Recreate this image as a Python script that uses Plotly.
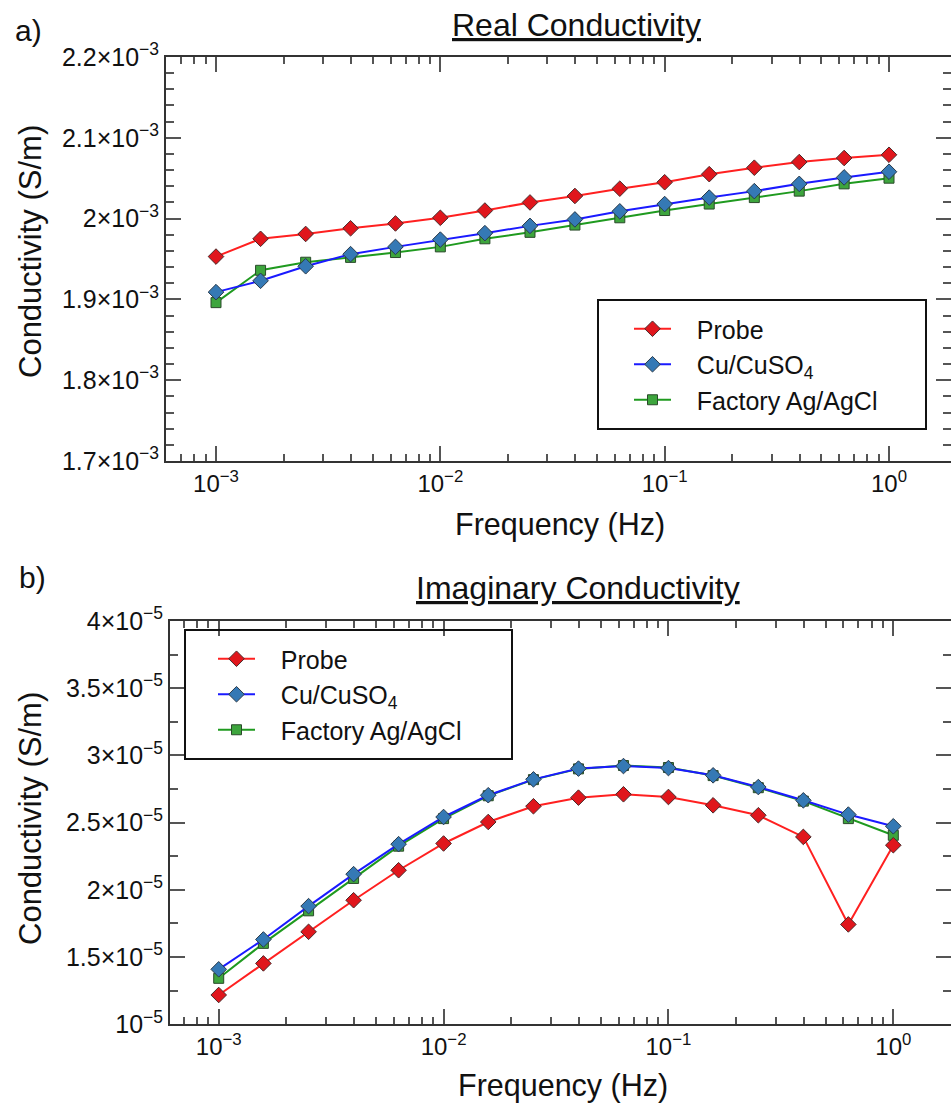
import numpy as np
import plotly.graph_objects as go

# Frequencies (Hz), 5 points per decade
freq = [0.001, 0.00158, 0.00251, 0.00398, 0.00631, 0.01, 0.0158, 0.0251,
        0.0398, 0.0631, 0.1, 0.158, 0.251, 0.398, 0.631, 1.0]

# Real conductivity (S/m)
real_probe = [1.953e-3, 1.975e-3, 1.981e-3, 1.988e-3, 1.994e-3, 2.001e-3, 2.010e-3, 2.020e-3,
              2.028e-3, 2.037e-3, 2.045e-3, 2.055e-3, 2.063e-3, 2.070e-3, 2.075e-3, 2.079e-3]
real_cu = [1.909e-3, 1.923e-3, 1.941e-3, 1.956e-3, 1.965e-3, 1.974e-3, 1.982e-3, 1.991e-3,
           1.999e-3, 2.009e-3, 2.018e-3, 2.026e-3, 2.034e-3, 2.043e-3, 2.051e-3, 2.058e-3]
real_ag = [1.896e-3, 1.936e-3, 1.946e-3, 1.952e-3, 1.958e-3, 1.965e-3, 1.975e-3, 1.983e-3,
           1.992e-3, 2.001e-3, 2.010e-3, 2.018e-3, 2.026e-3, 2.034e-3, 2.043e-3, 2.050e-3]

# Imaginary conductivity (S/m)
imag_probe = [1.218e-5, 1.453e-5, 1.688e-5, 1.923e-5, 2.146e-5, 2.345e-5, 2.505e-5, 2.622e-5,
              2.686e-5, 2.711e-5, 2.691e-5, 2.629e-5, 2.555e-5, 2.394e-5, 1.743e-5, 2.332e-5]
imag_cu = [1.409e-5, 1.631e-5, 1.879e-5, 2.117e-5, 2.340e-5, 2.542e-5, 2.704e-5, 2.822e-5,
           2.902e-5, 2.921e-5, 2.906e-5, 2.852e-5, 2.765e-5, 2.666e-5, 2.560e-5, 2.473e-5]
imag_ag = [1.342e-5, 1.602e-5, 1.844e-5, 2.085e-5, 2.325e-5, 2.530e-5, 2.700e-5, 2.820e-5,
           2.900e-5, 2.925e-5, 2.910e-5, 2.850e-5, 2.760e-5, 2.660e-5, 2.530e-5, 2.406e-5]

series_names = ["Probe", "Cu/CuSO<sub>4</sub>", "Factory Ag/AgCl"]

# Axis ticks
real_ticks = [1.7e-3, 1.8e-3, 1.9e-3, 2.0e-3, 2.1e-3, 2.2e-3]
real_ticktext = ["1.7×10<sup>−3</sup>", "1.8×10<sup>−3</sup>", "1.9×10<sup>−3</sup>",
                 "2×10<sup>−3</sup>", "2.1×10<sup>−3</sup>", "2.2×10<sup>−3</sup>"]
imag_ticks = [1.0e-5, 1.5e-5, 2.0e-5, 2.5e-5, 3.0e-5, 3.5e-5, 4.0e-5]
imag_ticktext = ["10<sup>−5</sup>", "1.5×10<sup>−5</sup>", "2×10<sup>−5</sup>",
                 "2.5×10<sup>−5</sup>", "3×10<sup>−5</sup>", "3.5×10<sup>−5</sup>",
                 "4×10<sup>−5</sup>"]
freq_ticks = [1e-3, 1e-2, 1e-1, 1e0]
freq_ticktext = ["10<sup>−3</sup>", "10<sup>−2</sup>", "10<sup>−1</sup>", "10<sup>0</sup>"]

W, H = 951, 1107
FONT = "Arial, 'Liberation Sans', sans-serif"
PAD = "\u00a0\u00a0\u00a0"  # gap between legend symbol and label


def px(x):
    return x / W


def py(y):
    return 1 - y / H


styles = [
    dict(line=dict(color="#ff2020", width=2),
         marker=dict(symbol="diamond", size=12, color="#e0161c",
                     line=dict(color="#4a2a2a", width=1))),
    dict(line=dict(color="#1a1aff", width=2),
         marker=dict(symbol="diamond", size=12, color="#3579b5",
                     line=dict(color="#2a3a4a", width=1))),
    dict(line=dict(color="#1f9a1f", width=2),
         marker=dict(symbol="square", size=10, color="#3da53d",
                     line=dict(color="#2a4a2a", width=1))),
]

fig = go.Figure()

# Green drawn first so blue/red sit on top
order = [2, 1, 0]
for i in order:
    ys = [real_probe, real_cu, real_ag][i]
    fig.add_trace(go.Scatter(x=freq, y=ys, mode="lines+markers", name=PAD + series_names[i],
                             xaxis="x", yaxis="y", legend="legend", legendrank=i,
                             **styles[i]))
for i in order:
    ys = [imag_probe, imag_cu, imag_ag][i]
    fig.add_trace(go.Scatter(x=freq, y=ys, mode="lines+markers", name=PAD + series_names[i],
                             xaxis="x2", yaxis="y2", legend="legend2", legendrank=i,
                             **styles[i]))

minor_log = [k * 10.0 ** e for e in range(-4, 1) for k in range(2, 10)]

axis_common = dict(showline=True, linecolor="#333333", linewidth=2, mirror="allticks",
                   ticks="inside", tickcolor="#555555", tickwidth=1.5,
                   showgrid=False, zeroline=False, automargin=False)
xfont = dict(family=FONT, size=24, color="#111111")
yfont = dict(family=FONT, size=25, color="#111111")

fig.update_layout(
    width=W, height=H,
    margin=dict(l=0, r=0, t=0, b=0, autoexpand=False),
    paper_bgcolor="white", plot_bgcolor="white",
    font=dict(family=FONT, color="#111111"),
    xaxis=dict(type="log", domain=[px(166), 1], range=[-3.2229, 0.2764], anchor="y",
               tickvals=freq_ticks, ticktext=freq_ticktext, ticklen=15, tickfont=xfont,
               minor=dict(tickmode="array", tickvals=minor_log, ticks="inside",
                          ticklen=7, tickcolor="#555555"),
               **axis_common),
    yaxis=dict(domain=[py(461), py(57)], range=[1.7e-3, 2.2e-3], anchor="x",
               tickvals=real_ticks, ticktext=real_ticktext, ticklen=15, tickfont=yfont,
               minor=dict(dtick=0.02e-3, tick0=1.7e-3, ticks="inside", ticklen=8,
                          tickcolor="#555555"),
               **axis_common),
    xaxis2=dict(type="log", domain=[px(170), 1], range=[-3.2166, 0.2566], anchor="y2",
                tickvals=freq_ticks, ticktext=freq_ticktext, ticklen=15, tickfont=xfont,
                minor=dict(tickmode="array", tickvals=minor_log, ticks="inside",
                           ticklen=7, tickcolor="#555555"),
                **axis_common),
    yaxis2=dict(domain=[py(1024.3), py(621)], range=[1.0e-5, 4.0e-5], anchor="x2",
                tickvals=imag_ticks, ticktext=imag_ticktext, ticklen=15, tickfont=yfont,
                minor=dict(dtick=0.25e-5, tick0=1.0e-5, ticks="inside", ticklen=8,
                           tickcolor="#555555"),
                **axis_common),
    legend=dict(x=px(629), y=py(306), xanchor="left", yanchor="top",
                bgcolor="rgba(0,0,0,0)", borderwidth=0, itemwidth=37,
                font=dict(family=FONT, size=25, color="#111111"),
                traceorder="normal"),
    legend2=dict(x=px(213), y=py(636), xanchor="left", yanchor="top",
                 bgcolor="rgba(0,0,0,0)", borderwidth=0, itemwidth=37,
                 font=dict(family=FONT, size=25, color="#111111"),
                 traceorder="normal"),
    showlegend=True,
)

# Legend frames
fig.add_shape(type="rect", xref="paper", yref="paper",
              x0=px(598), x1=px(926), y0=py(429), y1=py(300),
              line=dict(color="#111111", width=2), fillcolor="rgba(0,0,0,0)")
fig.add_shape(type="rect", xref="paper", yref="paper",
              x0=px(185), x1=px(512), y0=py(759), y1=py(630),
              line=dict(color="#111111", width=2), fillcolor="rgba(0,0,0,0)")

texts = [
    dict(text="a)", x=px(28), y=py(31), size=30),
    dict(text="b)", x=px(32), y=py(577), size=30),
    dict(text="<u>Real Conductivity</u>", x=px(576), y=py(25), size=32),
    dict(text="<u>Imaginary Conductivity</u>", x=px(578), y=py(588), size=32),
    dict(text="Frequency (Hz)", x=px(560), y=py(524), size=30.5),
    dict(text="Frequency (Hz)", x=px(563), y=py(1085), size=30.5),
]
for t in texts:
    fig.add_annotation(text=t["text"], x=t["x"], y=t["y"], xref="paper", yref="paper",
                       xanchor="center", yanchor="middle", showarrow=False,
                       font=dict(family=FONT, size=t["size"], color="#111111"))

for yc in (252, 819):
    fig.add_annotation(text="Conductivity (S/m)", x=px(30), y=py(yc), xref="paper",
                       yref="paper", xanchor="center", yanchor="middle", showarrow=False,
                       textangle=-90,
                       font=dict(family=FONT, size=31, color="#111111"))

fig.write_html("out.html")
